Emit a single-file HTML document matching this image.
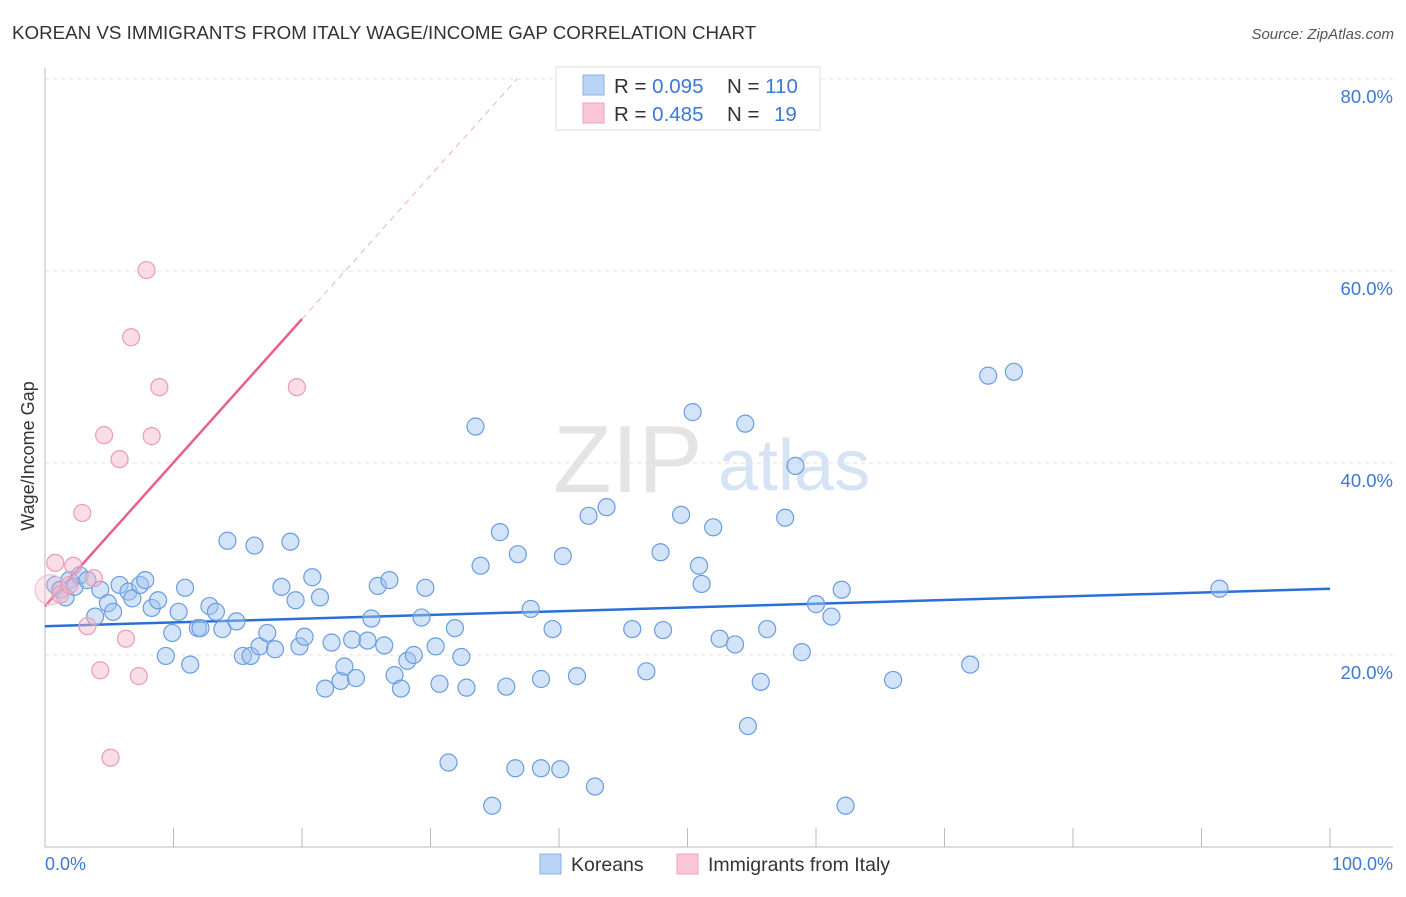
<!DOCTYPE html>
<html><head><meta charset="utf-8"><style>
body{margin:0;background:#fff;font-family:"Liberation Sans",sans-serif;}
svg text{font-family:"Liberation Sans",sans-serif;}
</style></head><body>
<svg id="chart" width="1406" height="892">
<text x="12" y="39" font-size="18.75" fill="#333">KOREAN VS IMMIGRANTS FROM ITALY WAGE/INCOME GAP CORRELATION CHART</text>
<text x="1394" y="39" font-size="15" fill="#555" font-style="italic" text-anchor="end">Source: ZipAtlas.com</text>
<g>
<text x="553" y="492" font-size="96" fill="#e4e4e4" font-family="Liberation Serif">ZIP</text>
<text x="718" y="490" font-size="72" fill="#d5e3f5">atlas</text>
</g>
<g id="grid"></g>
<g id="axes"></g>
<g id="lines"></g>
<g id="points"></g>
<text x="34" y="456" font-size="18" fill="#333" text-anchor="middle" transform="rotate(-90 34 456)">Wage/Income Gap</text>
<text x="45" y="870" font-size="18" fill="#3b78d8">0.0%</text>
<text x="1393" y="870" font-size="18" fill="#3b78d8" text-anchor="end">100.0%</text>
<g>
<rect x="556" y="67" width="264" height="63" fill="#fff" stroke="#ddd"/>
<rect x="583" y="75" width="21" height="20" fill="#b9d3f5" stroke="#8cb2e8"/>
<rect x="583" y="103" width="21" height="20" fill="#fbc7d6" stroke="#f0a0b8"/>
<text x="614" y="93" font-size="20.5" fill="#333">R = <tspan fill="#3b78d8">0.095</tspan><tspan x="727">N = </tspan><tspan fill="#3b78d8">110</tspan></text>
<text x="614" y="121" font-size="20.5" fill="#333">R = <tspan fill="#3b78d8">0.485</tspan><tspan x="727">N = </tspan><tspan x="774" fill="#3b78d8">19</tspan></text>
</g>
<g>
<rect x="540" y="854" width="21" height="20" fill="#b9d3f5" stroke="#8cb2e8"/>
<text x="571" y="871" font-size="19.5" fill="#333">Koreans</text>
<rect x="677" y="854" width="21" height="20" fill="#fbc7d6" stroke="#f0a0b8"/>
<text x="708" y="871" font-size="19.5" fill="#333">Immigrants from Italy</text>
</g>
</svg>
<script>
const yTicks=[20,40,60,80];
const yTickLabels=["20.0%","40.0%","60.0%","80.0%"];
const xTicks=[0,10,20,30,40,50,60,70,80,90,100];
const koreansX=[0.8,1.2,1.6,1.9,2.3,2.7,3.3,3.9,4.3,4.9,5.3,5.8,6.5,6.8,7.4,7.8,8.3,8.8,9.4,9.9,10.4,10.9,11.3,11.9,12.1,12.8,13.3,13.8,14.2,14.9,15.4,16.0,16.3,16.7,17.3,17.9,18.4,19.1,19.5,19.8,20.2,20.8,21.4,21.8,22.3,23.0,23.3,23.9,24.2,25.1,25.4,25.9,26.4,26.8,27.2,27.7,28.2,28.7,29.3,29.6,30.4,30.7,31.4,31.9,32.4,32.8,33.5,33.9,34.8,35.4,35.9,36.6,36.8,37.8,38.6,38.6,39.5,40.1,40.3,41.4,42.3,42.8,43.7,45.7,46.8,47.9,48.1,49.5,50.4,50.9,51.1,52.0,52.5,53.7,54.5,54.7,55.7,56.2,57.6,58.4,58.9,60.0,61.2,62.0,62.3,66.0,72.0,73.4,75.4,91.4];
const koreansY=[27.3,26.8,26.0,27.8,27.1,28.3,27.8,24.0,26.8,25.4,24.5,27.3,26.6,25.9,27.3,27.8,24.9,25.7,19.9,22.3,24.5,27.0,19.0,22.8,22.8,25.1,24.5,22.7,31.9,23.5,19.9,19.9,31.4,20.9,22.3,20.6,27.1,31.8,25.7,20.9,21.9,28.1,26.0,16.5,21.3,17.3,18.8,21.6,17.6,21.5,23.8,27.2,21.0,27.8,17.9,16.5,19.4,20.0,23.9,27.0,20.9,17.0,8.8,22.8,19.8,16.6,43.8,29.3,4.3,32.8,16.7,8.2,30.5,24.8,17.5,8.2,22.7,8.1,30.3,17.8,34.5,6.3,35.4,22.7,18.3,30.7,22.6,34.6,45.3,29.3,27.4,33.3,21.7,21.1,44.1,12.6,17.2,22.7,34.3,39.7,20.3,25.3,24.0,26.8,4.3,17.4,19.0,49.1,49.5,26.9];
const italyX=[0.4,0.8,1.2,2.2,2.9,3.3,3.8,4.3,4.6,5.1,5.8,6.3,6.7,7.3,7.9,8.3,8.9,19.6,1.9];
const italyY=[26.8,29.6,26.3,29.3,34.8,23.0,28.0,18.4,42.9,9.3,40.4,21.7,53.1,17.8,60.1,42.8,47.9,47.9,27.3];
const koreansTrend=[23.0,26.9];
const italyTrend=[25.1,55.0];
const NS="http://www.w3.org/2000/svg";
const X0=45,X1=1330,Y0=847,PXY=9.6;
function sx(v){return X0+(X1-X0)*v/100;}
function sy(v){return Y0-v*PXY;}
function mk(tag,attrs,parent){const e=document.createElementNS(NS,tag);for(const k in attrs)e.setAttribute(k,attrs[k]);parent.appendChild(e);return e;}
const grid=document.getElementById('grid'),axes=document.getElementById('axes'),lines=document.getElementById('lines'),pts=document.getElementById('points');
yTicks.forEach((t,i)=>{
 const l=mk('line',{x1:X0,x2:1393,y1:sy(t),y2:sy(t),stroke:'#e2e2e2','stroke-dasharray':'4,4'},grid);
 
 
 const tx=mk('text',{x:1393,y:sy(t)+24,'font-size':18.5,fill:'#3b78d8','text-anchor':'end'},grid);
 tx.textContent=yTickLabels[i];
 
 
});
const ya=mk('line',{x1:X0,x2:X0,y1:68,y2:Y0,stroke:'#bbb'},axes);


const xa=mk('line',{x1:X0,x2:1393,y1:Y0,y2:Y0,stroke:'#bbb'},axes);


xTicks.forEach(t=>{
 const l=mk('line',{x1:sx(t),x2:sx(t),y1:828,y2:Y0,stroke:'#bbb'},axes);
 
 
});
const kl=mk('line',{x1:sx(0),x2:sx(100),y1:sy(koreansTrend[0]),y2:sy(koreansTrend[1]),stroke:'#2b6fd6','stroke-width':2.5},lines);


const slope=(italyTrend[1]-italyTrend[0])/20;
const xEnd=(80-italyTrend[0])/slope;
const id=mk('line',{x1:sx(20),x2:sx(xEnd),y1:sy(italyTrend[1]),y2:sy(80),stroke:'#f0b0c4','stroke-width':1,'stroke-dasharray':'6,5'},lines);


const il=mk('line',{x1:sx(0),x2:sx(20),y1:sy(italyTrend[0]),y2:sy(italyTrend[1]),stroke:'#e8608a','stroke-width':2.5},lines);


koreansX.forEach((x,i)=>{
 const c=mk('circle',{cx:sx(x),cy:sy(koreansY[i]),r:8.5,fill:'rgba(160,196,240,0.45)',stroke:'#6a9de0','stroke-width':1.2},pts);
 
 
});
italyX.forEach((x,i)=>{
 const c=mk('circle',{cx:sx(x),cy:sy(italyY[i]),r:i===0?15:8.5,fill:i===0?'rgba(245,180,200,0.3)':'rgba(245,180,200,0.45)',stroke:i===0?'#f3c0cf':'#eb9cb4','stroke-width':1.2},pts);
 
 
});
</script>
</body></html>
